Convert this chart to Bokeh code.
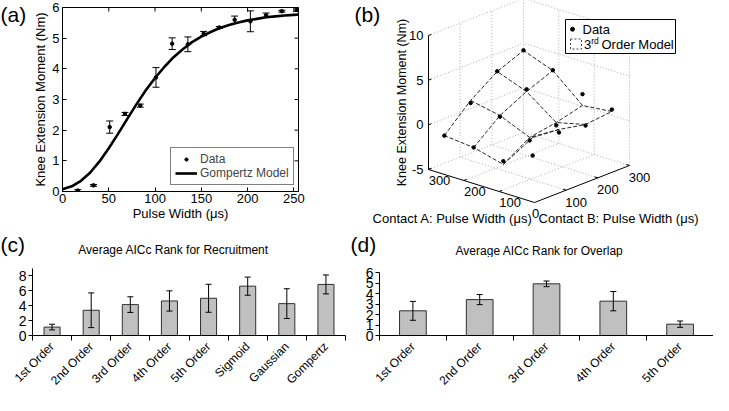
import math
from bokeh.plotting import figure
from bokeh.models import (ColumnDataSource, Whisker, TeeHead, Range1d, FixedTicker,
                          Legend, LegendItem)
from bokeh.layouts import row, column
from bokeh.embed import file_html
from bokeh.resources import INLINE
from bokeh.core.properties import value

FONT = "Liberation Sans"

# ---------------- (a) recruitment curve ----------------
pulse_width = [16.5, 33.5, 51, 67.5, 84, 101, 118.5, 135.5, 152.5, 169.5, 186, 203, 220, 237, 253]
moment_mean = [0.03, 0.2, 2.1, 2.53, 2.8, 3.72, 4.82, 4.8, 5.15, 5.35, 5.6, 5.55, 5.75, 5.88, 5.93]
moment_err = [0.03, 0.03, 0.2, 0.05, 0.05, 0.32, 0.19, 0.24, 0.07, 0.03, 0.12, 0.34, 0.07, 0.03, 0.06]
gompertz_pw = [0, 10, 20, 30, 40, 50, 60, 70, 80, 90, 100, 110, 120, 130, 140, 150, 160, 170,
               180, 190, 200, 210, 220, 230, 240, 250, 255]
gompertz_moment = [0.07, 0.17, 0.35, 0.62, 0.98, 1.41, 1.88, 2.37, 2.85, 3.30, 3.70, 4.06, 4.38,
                   4.64, 4.87, 5.05, 5.20, 5.33, 5.43, 5.51, 5.58, 5.63, 5.68, 5.71, 5.74, 5.76, 5.77]
a_xticks = [0, 50, 100, 150, 200, 250]
a_yticks = [0, 1, 2, 3, 4, 5, 6]

# ---------------- (b) 3-D overlap surface ----------------
contact_a_pw = [50, 133, 217, 300]
contact_b_pw = [50, 133, 217, 300]
model_a50 = [0.97, 0.72, 0.12, 0.43]
model_a133 = [-3.07, -1.19, -0.68, 0.08]
model_a217 = [-2.21, 0.23, 1.75, 2.96]
model_a300 = [-1.89, 0.89, 2.97, 4.18]
data_a50 = [-1.05, 0.39, 0.0, 0.65]
data_a133 = [-2.7, -1.53, -1.0, 1.35]
data_a217 = [-2.2, 0.1, 2.0, 3.0]
data_a300 = [-1.9, 0.6, 3.0, 4.2]
b_pw_ticks = [100, 200, 300]
b_z_ticks = [-5, 0, 5, 10]

# ---------------- (c) recruitment AICc ----------------
recruit_models = ["1st Order", "2nd Order", "3rd Order", "4th Order", "5th Order",
                  "Sigmoid", "Gaussian", "Gompertz"]
recruit_rank = [1.13, 3.39, 4.15, 4.64, 5.0, 6.63, 4.28, 6.86]
recruit_sd = [0.38, 2.33, 1.05, 1.36, 1.88, 1.22, 2.0, 1.27]
c_yticks = [0, 2, 4, 6, 8]

# ---------------- (d) overlap AICc ----------------
overlap_models = ["1st Order", "2nd Order", "3rd Order", "4th Order", "5th Order"]
overlap_rank = [2.35, 3.42, 4.92, 3.27, 1.08]
overlap_sd = [0.9, 0.48, 0.27, 0.92, 0.3]
d_yticks = [0, 1, 2, 3, 4, 5, 6]


def style_axis(ax, size="13px"):
    ax.major_label_text_font = FONT
    ax.major_label_text_font_size = size
    ax.major_label_text_color = "black"
    ax.axis_label_text_font = FONT
    ax.axis_label_text_font_size = size
    ax.axis_label_text_font_style = "normal"
    ax.axis_label_text_color = "black"
    ax.axis_line_color = "black"
    ax.major_tick_line_color = "black"
    ax.minor_tick_line_color = None


def canvas_fig(width, height, x0, x1, y0, y1):
    """A figure whose whole area is its frame, mapped to page pixels."""
    f = figure(width=width, height=height, x_range=Range1d(x0, x1), y_range=Range1d(y1, y0),
               output_backend="svg", toolbar_location=None, min_border=0,
               x_axis_type=None, y_axis_type=None, frame_align=False)
    f.outline_line_color = None
    return f


def txt(f, xs, ys, texts, size="13px", align="left", baseline="middle", angle=0.0):
    f.text(xs, ys, text=texts, angle=angle, text_font=value(FONT),
           text_font_size=value(size), text_align=align, text_baseline=baseline,
           text_color="black")


def whiskers(src, size):
    return Whisker(source=src, base="x", upper="up", lower="lo", line_color="black",
                   line_width=1, level="overlay",
                   upper_head=TeeHead(size=size, line_color="black", line_width=1),
                   lower_head=TeeHead(size=size, line_color="black", line_width=1))


# ======================= tag (a) =======================
tag_a = canvas_fig(30, 230, 8, 38, 8, 238)
txt(tag_a, [8], [22], ["(a)"], size="21px")

# ======================= panel (a) =======================
pa = figure(width=322, height=230, x_range=Range1d(0, 255), y_range=Range1d(0, 6),
            output_backend="svg", toolbar_location=None, frame_align=False,
            min_border_left=28, min_border_right=54, min_border_top=7, min_border_bottom=39)
pa.grid.visible = False
pa.outline_line_color = "black"
pa.outline_line_alpha = 1.0
pa.xaxis.ticker = FixedTicker(ticks=a_xticks)
pa.yaxis.ticker = FixedTicker(ticks=a_yticks)
for ax in (pa.xaxis[0], pa.yaxis[0]):
    style_axis(ax)
    ax.major_tick_in = 4
    ax.major_tick_out = 0
pa.xaxis.axis_label = "Pulse Width (\u03bcs)"
pa.yaxis.axis_label = "Knee Extension Moment (Nm)"
pa.xaxis.major_label_standoff = 2
pa.xaxis.axis_label_standoff = 0
pa.yaxis.major_label_standoff = 3
pa.yaxis.axis_label_standoff = 1

# mirrored inner ticks on the top and right of the box (frame 240 x 184 px)
XMAX, YMAX = 255, 6
tick_dy = 4 * YMAX / 184.0
tick_dx = 4 * XMAX / 240.0
pa.segment(x0=a_xticks, y0=[YMAX] * len(a_xticks), x1=a_xticks,
           y1=[YMAX - tick_dy] * len(a_xticks), line_color="black", line_width=1)
pa.segment(x0=[XMAX] * len(a_yticks), y0=a_yticks, x1=[XMAX - tick_dx] * len(a_yticks),
           y1=a_yticks, line_color="black", line_width=1)

src_a = ColumnDataSource(dict(x=pulse_width, y=moment_mean,
                              up=[m + e for m, e in zip(moment_mean, moment_err)],
                              lo=[m - e for m, e in zip(moment_mean, moment_err)]))
pa.add_layout(whiskers(src_a, 7))
r_gomp = pa.line(gompertz_pw, gompertz_moment, line_width=2.6, color="black")
r_data = pa.scatter("x", "y", source=src_a, size=3.5, color="black")
leg = Legend(items=[LegendItem(label="Data", renderers=[r_data]),
                    LegendItem(label="Gompertz Model", renderers=[r_gomp])],
             location=(108, 6), padding=4, spacing=0, margin=0, glyph_width=22, glyph_height=8,
             label_height=13, label_standoff=3, label_text_font=FONT, label_text_font_size="12px",
             border_line_color="black", border_line_width=1, background_fill_alpha=1)
pa.add_layout(leg)

# ======================= panel (b) =======================
pb = canvas_fig(361, 230, 360, 721, 8, 238)

ORIGIN = (542.0, 210.0)          # page spot of (A=0, B=0, z=-5)
A_VEC = (-106.0 / 300, -33.0 / 300)
B_VEC = (95.0 / 300, -37.0 / 300)
Z_MIN, Z_PX = -5.0, -134.0 / 15


def proj(a, b, z):
    return (ORIGIN[0] + a * A_VEC[0] + b * B_VEC[0],
            ORIGIN[1] + a * A_VEC[1] + b * B_VEC[1] + (z - Z_MIN) * Z_PX)


A_MAX, B_MAX, Z_MAX = 300, 300, 10


def add_seg(lst_x, lst_y, p0, p1):
    q0, q1 = proj(*p0), proj(*p1)
    lst_x.append([q0[0], q1[0]])
    lst_y.append([q0[1], q1[1]])


grid_xs, grid_ys = [], []
for a in b_pw_ticks:
    add_seg(grid_xs, grid_ys, (a, 0, Z_MIN), (a, B_MAX, Z_MIN))
for b in b_pw_ticks:
    add_seg(grid_xs, grid_ys, (0, b, Z_MIN), (A_MAX, b, Z_MIN))
for z in b_z_ticks[1:]:
    add_seg(grid_xs, grid_ys, (A_MAX, 0, z), (A_MAX, B_MAX, z))
    add_seg(grid_xs, grid_ys, (0, B_MAX, z), (A_MAX, B_MAX, z))
for b in b_pw_ticks:
    add_seg(grid_xs, grid_ys, (A_MAX, b, Z_MIN), (A_MAX, b, Z_MAX))
for a in [0] + b_pw_ticks[:-1]:
    add_seg(grid_xs, grid_ys, (a, B_MAX, Z_MIN), (a, B_MAX, Z_MAX))
pb.multi_line(grid_xs, grid_ys, line_color="#9a9a9a", line_width=0.8, line_dash="1 2")

ax_xs, ax_ys = [], []
add_seg(ax_xs, ax_ys, (A_MAX, 0, Z_MIN), (A_MAX, 0, Z_MAX))
add_seg(ax_xs, ax_ys, (0, 0, Z_MIN), (A_MAX, 0, Z_MIN))
add_seg(ax_xs, ax_ys, (0, 0, Z_MIN), (0, B_MAX, Z_MIN))
for z in b_z_ticks:
    add_seg(ax_xs, ax_ys, (A_MAX, 0, z), (A_MAX, 9, z))
for a in b_pw_ticks:
    add_seg(ax_xs, ax_ys, (a, 0, Z_MIN), (a, 9, Z_MIN))
for b in b_pw_ticks:
    add_seg(ax_xs, ax_ys, (0, b, Z_MIN), (9, b, Z_MIN))
pb.multi_line(ax_xs, ax_ys, line_color="black", line_width=1)

model_rows = [model_a50, model_a133, model_a217, model_a300]
data_rows = [data_a50, data_a133, data_a217, data_a300]
mesh_xs, mesh_ys = [], []
for i, a in enumerate(contact_a_pw):
    pts = [proj(a, b, model_rows[i][j]) for j, b in enumerate(contact_b_pw)]
    mesh_xs.append([p[0] for p in pts])
    mesh_ys.append([p[1] for p in pts])
for j, b in enumerate(contact_b_pw):
    pts = [proj(a, b, model_rows[i][j]) for i, a in enumerate(contact_a_pw)]
    mesh_xs.append([p[0] for p in pts])
    mesh_ys.append([p[1] for p in pts])
pb.multi_line(mesh_xs, mesh_ys, line_color="#262626", line_width=1, line_dash="4 2")

dxs, dys = [], []
for i, a in enumerate(contact_a_pw):
    for j, b in enumerate(contact_b_pw):
        p = proj(a, b, data_rows[i][j])
        dxs.append(p[0])
        dys.append(p[1])
pb.scatter(dxs, dys, size=3.5, color="black")

zl = [proj(A_MAX, 0, z) for z in b_z_ticks]
txt(pb, [p[0] - 5 for p in zl], [p[1] for p in zl], [str(z) for z in b_z_ticks], align="right")
al = [proj(a, 0, Z_MIN) for a in b_pw_ticks]
txt(pb, [p[0] + 11 for p in al], [p[1] + 11 for p in al], [str(a) for a in b_pw_ticks],
    align="center")
bl = [proj(0, b, Z_MIN) for b in b_pw_ticks]
txt(pb, [p[0] + 10 for p in bl], [p[1] + 12 for p in bl], [str(b) for b in b_pw_ticks],
    align="center")
o = proj(0, 0, Z_MIN)
txt(pb, [o[0] + 1], [o[1] + 11], ["0"], align="center")

txt(pb, [409], [110], ["Knee Extension Moment (Nm)"], size="12.5px", align="center",
    angle=math.pi / 2)
txt(pb, [460, 626], [226, 226],
    ["Contact A: Pulse Width (\u03bcs)", "Contact B: Pulse Width (\u03bcs)"], align="center")
txt(pb, [362], [22], ["(b)"], size="21px")

# legend (b)
pb.quad(left=[573], right=[683], top=[27], bottom=[61], fill_color="white", line_color="black",
        line_width=1)
pb.scatter([580], [36.7], size=4, color="black")
pb.quad(left=[578], right=[589], top=[46.5], bottom=[56.5], fill_color=None, line_color="#444444",
        line_width=1, line_dash="2 2")
txt(pb, [590], [37], ["Data"])
txt(pb, [591.5], [52], ["3"])
txt(pb, [598.7], [48.5], ["rd"], size="8.5px")
txt(pb, [609], [52], ["Order Model"])

# ======================= strip with (c)/(d) tags and titles =======================
strip = canvas_fig(713, 27, 8, 721, 238, 265)
txt(strip, [8], [252], ["(c)"], size="21px")
txt(strip, [358], [252], ["(d)"], size="21px")
txt(strip, [181, 547], [257, 258],
    ["Average AICc Rank for Recruitment", "Average AICc Rank for Overlap"], size="12px",
    align="center")


# ======================= bar panels =======================
def bar_panel(models, ranks, sds, yticks, ymax, width, mb, bar_w):
    n = len(models)
    p = figure(width=width, height=138, x_range=Range1d(0, n), y_range=Range1d(0, ymax),
               output_backend="svg", toolbar_location=None, frame_align=False,
               min_border_left=mb[0], min_border_right=mb[1], min_border_top=mb[2],
               min_border_bottom=mb[3])
    p.grid.visible = False
    p.outline_line_color = None
    centers = [i + 0.5 for i in range(n)]
    p.xaxis.ticker = FixedTicker(ticks=centers, minor_ticks=list(range(n + 1)))
    p.xaxis.major_label_overrides = {c: m for c, m in zip(centers, models)}
    p.yaxis.ticker = FixedTicker(ticks=yticks)
    style_axis(p.xaxis[0], "12px")
    style_axis(p.yaxis[0], "14px")
    p.xaxis.major_tick_in = 0
    p.xaxis.major_tick_out = 0
    p.xaxis.minor_tick_line_color = "black"
    p.xaxis.minor_tick_in = 0
    p.xaxis.minor_tick_out = 5
    p.xaxis.major_label_orientation = math.pi / 4
    p.xaxis.major_label_standoff = 4
    p.yaxis.major_tick_in = 0
    p.yaxis.major_tick_out = 4
    p.yaxis.major_label_standoff = 2
    src = ColumnDataSource(dict(x=centers, top=ranks,
                                up=[r + s for r, s in zip(ranks, sds)],
                                lo=[r - s for r, s in zip(ranks, sds)]))
    p.vbar(x="x", top="top", width=bar_w, source=src, fill_color="#c0c0c0",
           line_color="#303030", line_width=1)
    p.add_layout(whiskers(src, 6))
    return p


pc = bar_panel(recruit_models, recruit_rank, recruit_sd, c_yticks, 9, 348, (32, 3, 11, 60), 0.41)
pd_ = bar_panel(overlap_models, overlap_rank, overlap_sd, d_yticks, 6, 365, (31, 0, 15, 55), 0.4)

layout = column(row(tag_a, pa, pb), strip, row(pc, pd_))
open("out.html", "w").write(file_html(layout, INLINE))
